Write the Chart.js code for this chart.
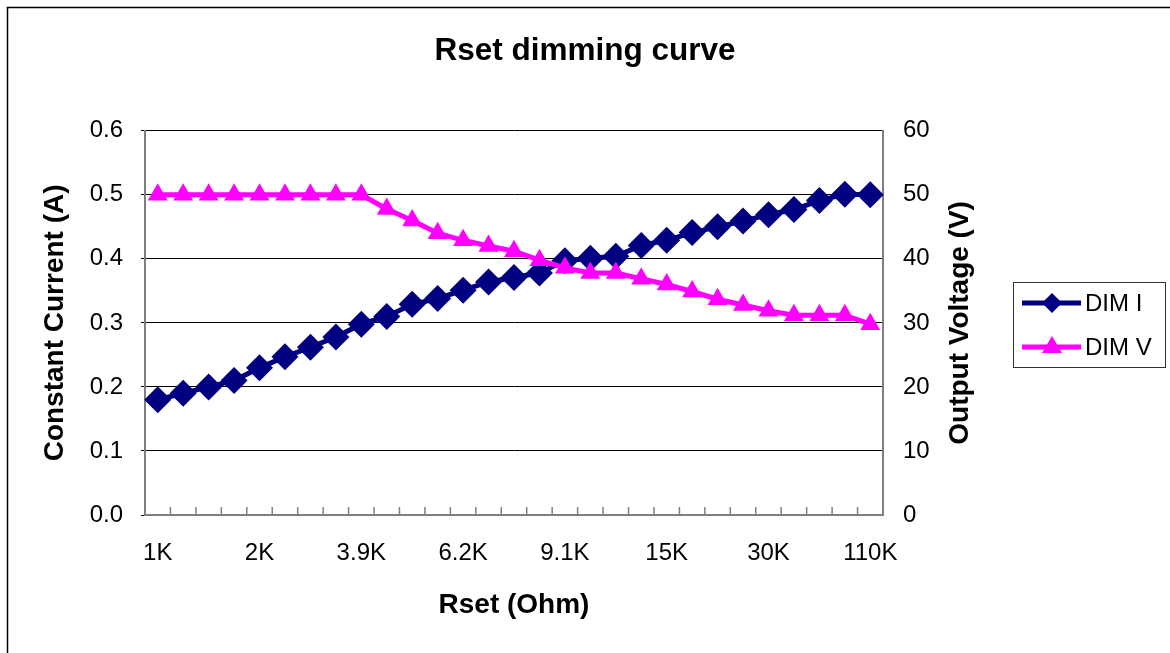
<!DOCTYPE html>
<html>
<head>
<meta charset="utf-8">
<script src="https://cdn.jsdelivr.net/npm/chart.js"></script>
<style>
  body { margin: 0; background: #fff; }
  #wrap { width: 1170px; height: 653px; }
</style>
</head>
<body>
<div id="wrap"><canvas id="dimChart" width="1170" height="653"></canvas></div>
<script>
// DATA
var categories = ['1K', '1.2K', '1.5K', '1.8K', '2K', '2.4K', '2.7K', '3.3K', '3.9K', '4.3K', '4.7K', '5.1K',
    '6.2K', '6.8K', '7.5K', '8.2K', '9.1K', '10K', '11K', '13K', '15K', '18K', '20K', '24K', '30K',
    '39K', '51K', '68K', '110K'];
var dimI = [0.18, 0.19, 0.20, 0.21, 0.23, 0.247, 0.262, 0.278, 0.298, 0.31, 0.329, 0.338, 0.351, 0.364,
    0.371, 0.378, 0.397, 0.401, 0.404, 0.421, 0.429, 0.441, 0.45, 0.459, 0.469, 0.477, 0.491, 0.501, 0.50];
var dimV = [50, 50, 50, 50, 50, 50, 50, 50, 50, 47.8, 46, 44, 42.9, 42, 41.2, 39.8, 38.6, 37.8, 37.8,
    36.9, 36, 34.9, 33.7, 32.8, 31.9, 31.2, 31.2, 31.2, 29.8];
var currentTicks = [0.0, 0.1, 0.2, 0.3, 0.4, 0.5, 0.6];
var voltageTicks = [0, 10, 20, 30, 40, 50, 60];
var labelEvery = 4;

var FONT = "'Liberation Sans', Arial, sans-serif";
var NAVY = '#000080';
var PINK = '#FF00FF';
var AXIS_GRAY = '#7f7f7f';

//PLUGIN: BACKGROUND, FRAME, CATEGORY TICKS, RIGHT TITLE, LEGEND
var excelLook = {
    id: 'excelLook',
    beforeDraw: function(chart) {
        var c = chart.ctx;
        c.save();
        c.fillStyle = '#fff';
        c.fillRect(0, 0, chart.width, chart.height);
        c.strokeStyle = '#000';
        c.lineWidth = 1.5;
        c.strokeRect(7.5, 7.5, chart.width + 20, chart.height + 20);
        c.restore();
    },
    afterDatasetsDraw: function(chart) {
        var c = chart.ctx;
        var area = chart.chartArea;
        var xs = chart.scales.x;

        // category tick marks inside the plot, on category boundaries
        c.save();
        c.strokeStyle = AXIS_GRAY;
        c.lineWidth = 1.5;
        for (var i = 0; i <= categories.length; i++) {
            var bx;
            if (i === 0) bx = area.left;
            else if (i === categories.length) bx = area.right;
            else bx = (xs.getPixelForValue(i - 1) + xs.getPixelForValue(i)) / 2;
            c.beginPath();
            c.moveTo(bx, area.bottom);
            c.lineTo(bx, area.bottom - 8);
            c.stroke();
        }
        c.restore();

        // right axis title, reading bottom to top
        c.save();
        c.translate(960, (area.top + area.bottom) / 2);
        c.rotate(-Math.PI / 2);
        c.fillStyle = '#000';
        c.font = 'bold 28px ' + FONT;
        c.textAlign = 'center';
        c.textBaseline = 'middle';
        c.fillText('Output Voltage (V)', 0, 0);
        c.restore();

        // legend
        c.save();
        c.strokeStyle = '#333';
        c.lineWidth = 1;
        c.strokeRect(1013.5, 282.5, 152, 85);
        var items = chart.data.datasets;
        for (var k = 0; k < items.length; k++) {
            var ly = 303 + k * 44;
            c.strokeStyle = items[k].borderColor;
            c.lineWidth = 5;
            c.beginPath();
            c.moveTo(1022, ly);
            c.lineTo(1081, ly);
            c.stroke();
            c.fillStyle = items[k].backgroundColor;
            c.beginPath();
            if (items[k].pointStyle === 'rectRot') {
                c.moveTo(1052, ly - 10);
                c.lineTo(1062, ly);
                c.lineTo(1052, ly + 10);
                c.lineTo(1042, ly);
            } else {
                c.moveTo(1052, ly - 11);
                c.lineTo(1062, ly + 6);
                c.lineTo(1042, ly + 6);
            }
            c.closePath();
            c.fill();
            c.fillStyle = '#000';
            c.font = '24px ' + FONT;
            c.textAlign = 'left';
            c.textBaseline = 'middle';
            c.fillText(items[k].label, 1085, ly + 1);
        }
        c.restore();
    }
};

var ctx = document.getElementById('dimChart').getContext('2d');
var dimChart = new Chart(ctx, {
    type: 'line',
    data: {
        labels: categories,
        datasets: [{
            label: 'DIM I',
            data: dimI,
            yAxisID: 'y',
            borderColor: NAVY,
            backgroundColor: NAVY,
            borderWidth: 5,
            pointStyle: 'rectRot',
            pointRadius: 13.5,
            pointBorderWidth: 0,
            tension: 0,
            order: 2
        }, {
            label: 'DIM V',
            data: dimV,
            yAxisID: 'y1',
            borderColor: PINK,
            backgroundColor: PINK,
            borderWidth: 5,
            pointStyle: 'triangle',
            pointRadius: 11.5,
            pointBorderWidth: 0,
            tension: 0,
            order: 1
        }]
    },
    options: {
        animation: false,
        responsive: false,
        devicePixelRatio: 1,
        layout: { padding: 0 },
        plugins: {
            legend: { display: false },
            tooltip: { enabled: false },
            title: {
                display: true,
                text: 'Rset dimming curve',
                color: '#000',
                font: { family: FONT, size: 31.5, weight: 'bold', lineHeight: 1.2 },
                padding: { top: 32, bottom: 61 }
            }
        },
        scales: {
            x: {
                type: 'category',
                offset: true,
                afterFit: function(scale) { scale.height = 138; },
                grid: { display: false },
                border: { display: true, color: AXIS_GRAY, width: 2 },
                ticks: {
                    autoSkip: false,
                    maxRotation: 0,
                    color: '#000',
                    padding: 16,
                    font: { family: FONT, size: 24 },
                    callback: function(value, index) {
                        return index % labelEvery === 0 ? categories[index] : '';
                    }
                },
                title: {
                    display: true,
                    text: 'Rset (Ohm)',
                    color: '#000',
                    font: { family: FONT, size: 28, weight: 'bold', lineHeight: 1.2 },
                    padding: { top: 0, bottom: 31 }
                }
            },
            y: {
                position: 'left',
                min: 0,
                max: 0.6,
                afterFit: function(scale) { scale.width = 145; },
                afterBuildTicks: function(scale) {
                    scale.ticks = currentTicks.map(function(v) { return { value: v }; });
                },
                grid: { color: '#000', lineWidth: 1, drawTicks: true, tickLength: 4 },
                border: { display: true, color: AXIS_GRAY, width: 2 },
                ticks: {
                    color: '#000',
                    padding: 18,
                    font: { family: FONT, size: 24 },
                    callback: function(value) { return Number(value).toFixed(1); }
                },
                title: {
                    display: true,
                    text: 'Constant Current (A)',
                    color: '#000',
                    font: { family: FONT, size: 28, weight: 'bold', lineHeight: 1.2 },
                    padding: { top: 38, bottom: 0 }
                }
            },
            y1: {
                position: 'right',
                min: 0,
                max: 60,
                afterFit: function(scale) { scale.width = 287; },
                afterBuildTicks: function(scale) {
                    scale.ticks = voltageTicks.map(function(v) { return { value: v }; });
                },
                grid: { drawOnChartArea: false, drawTicks: false },
                border: { display: true, color: AXIS_GRAY, width: 2 },
                ticks: {
                    color: '#000',
                    padding: 20,
                    font: { family: FONT, size: 24 },
                    callback: function(value) { return String(value); }
                }
            }
        }
    },
    plugins: [excelLook]
});
</script>
</body>
</html>
